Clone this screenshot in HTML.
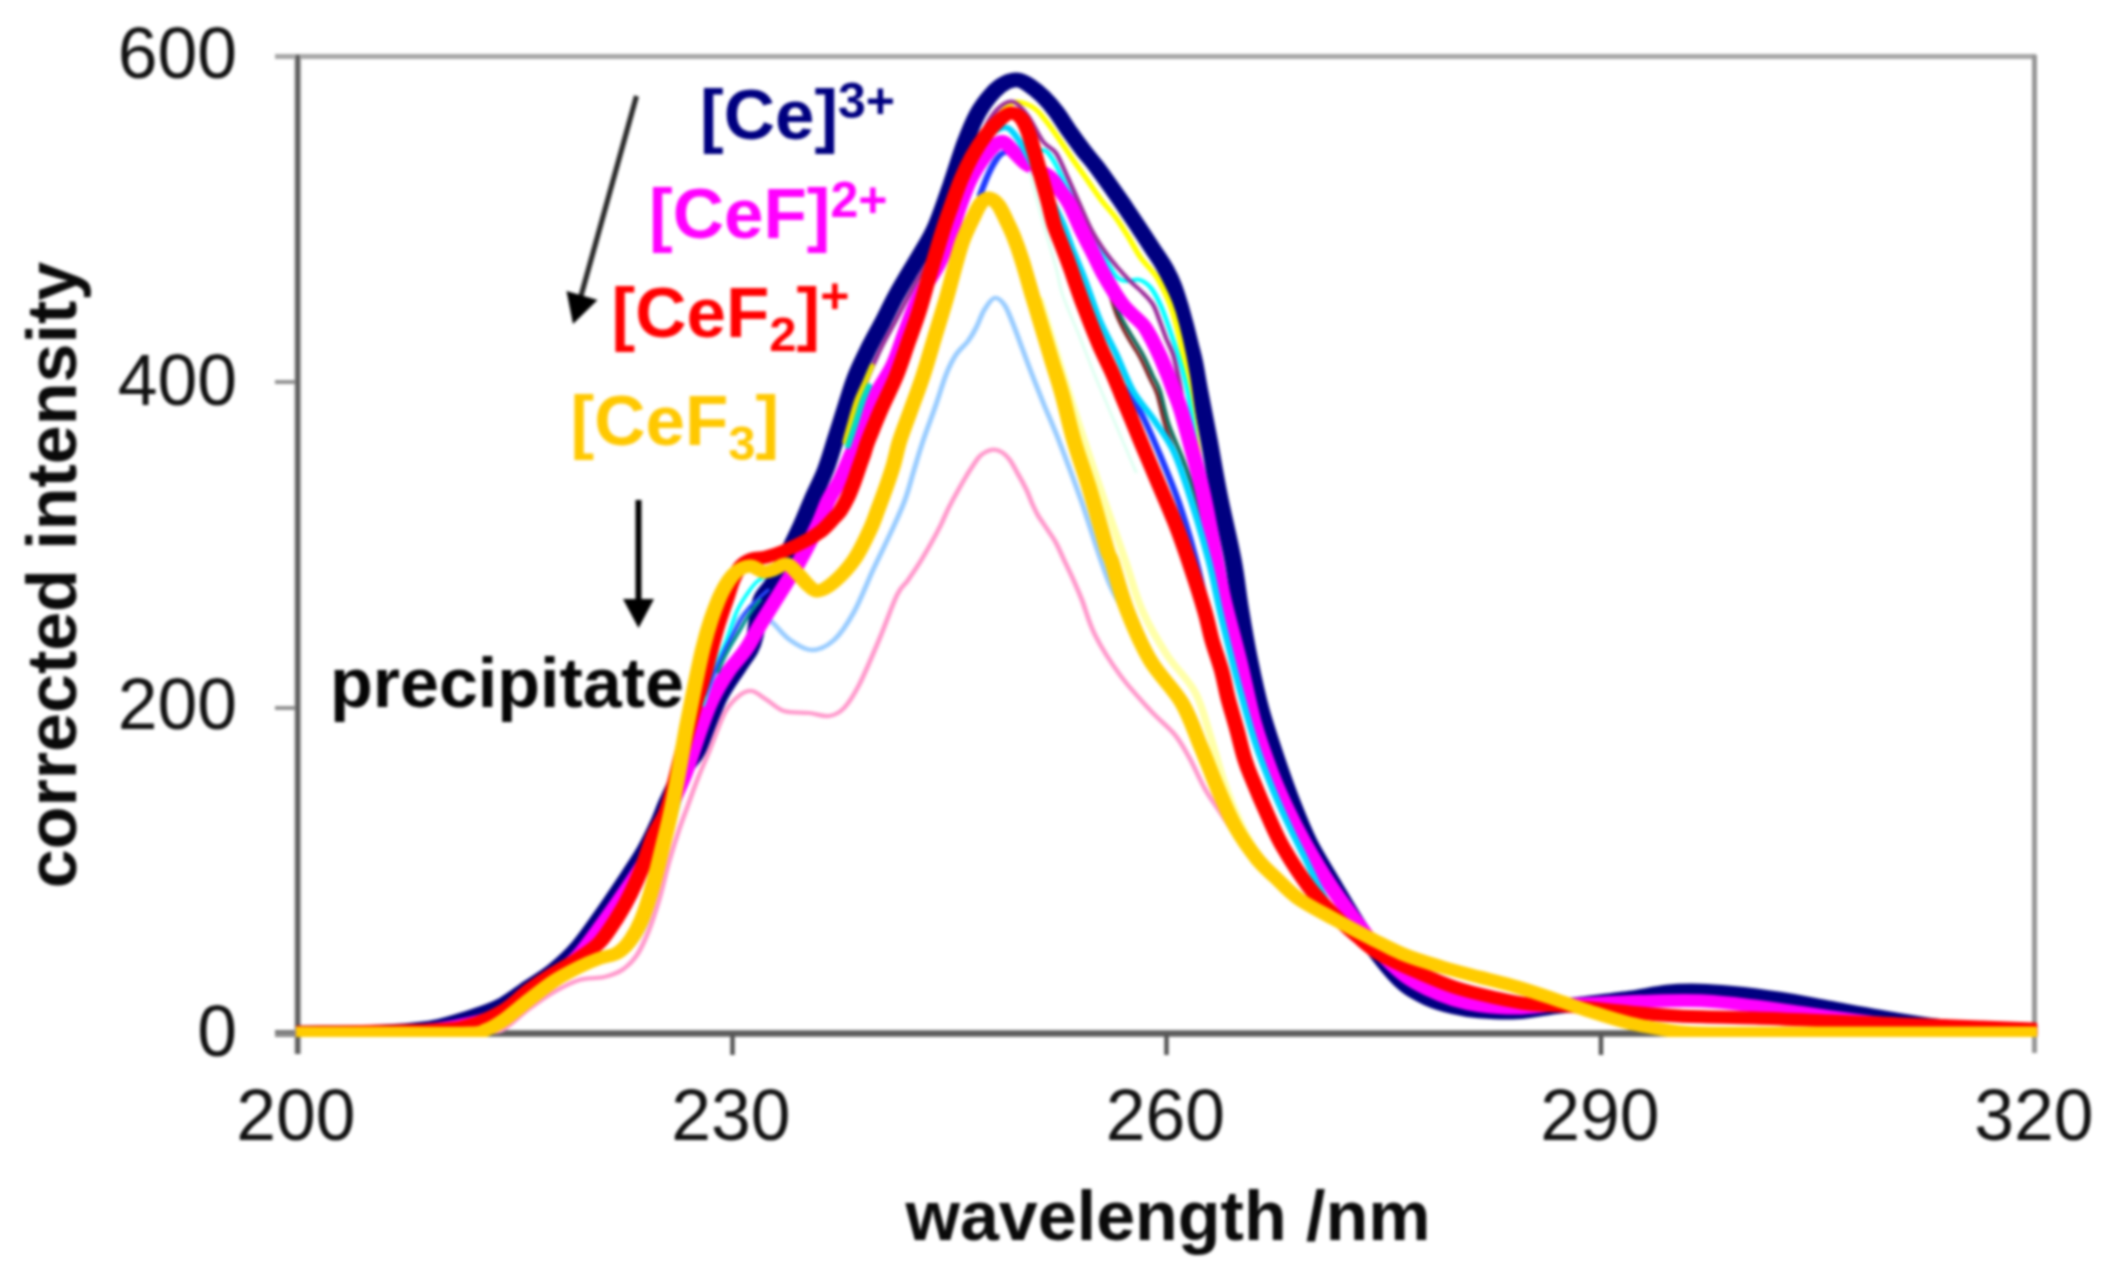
<!DOCTYPE html>
<html lang="en">
<head>
<meta charset="utf-8">
<title>Corrected intensity vs wavelength</title>
<style>
html,body{margin:0;padding:0;background:#fff;}
body{width:2105px;height:1275px;overflow:hidden;position:relative;font-family:"Liberation Sans",sans-serif;}
svg{position:absolute;left:0;top:0;display:block;}
text{font-family:"Liberation Sans",sans-serif;}
.tick{font-size:71.5px;fill:#111;}
.b{font-weight:bold;}
.curves path{fill:none;stroke-linejoin:round;stroke-linecap:round;}
</style>
</head>
<body>
<svg width="2105" height="1275" viewBox="0 0 2105 1275">
<defs>
<filter id="soft" x="-2%" y="-2%" width="104%" height="104%" color-interpolation-filters="sRGB"><feGaussianBlur stdDeviation="1.6"/></filter>
<clipPath id="plot"><rect x="250.8" y="40" width="1475.7" height="997"/></clipPath>
</defs>
<rect x="0" y="0" width="2105" height="1275" fill="#ffffff"/>
<g filter="url(#soft)">
<!-- frame -->
<g fill="none">
<line x1="275" y1="56.5" x2="2036" y2="56.5" stroke="#a6a6a6" stroke-width="5"/>
<line x1="2034.5" y1="55" x2="2034.5" y2="1053" stroke="#959595" stroke-width="5"/>
<line x1="275" y1="1033.5" x2="2036" y2="1033.5" stroke="#5c5c5c" stroke-width="6.5"/>
<line x1="297.7" y1="55" x2="297.7" y2="1054" stroke="#b4b4b4" stroke-width="7"/>
<line x1="297.7" y1="55" x2="297.7" y2="1054" stroke="#555555" stroke-width="4"/>
<!-- y ticks -->
<line x1="275" y1="382" x2="296" y2="382" stroke="#8c8c8c" stroke-width="3.8"/>
<line x1="275" y1="708" x2="296" y2="708" stroke="#8c8c8c" stroke-width="3.8"/>
<line x1="275" y1="1034" x2="296" y2="1034" stroke="#8c8c8c" stroke-width="3.8"/>
<!-- x ticks -->
<line x1="732.5" y1="1034" x2="732.5" y2="1055" stroke="#555" stroke-width="4.5"/>
<line x1="1166.5" y1="1034" x2="1166.5" y2="1055" stroke="#555" stroke-width="4.5"/>
<line x1="1601" y1="1034" x2="1601" y2="1055" stroke="#555" stroke-width="4.5"/>
</g>
<!-- spectra -->
<g class="curves" clip-path="url(#plot)" transform="scale(1.18 1)">
<path d="M406.8 1031.0C410.2 1028.2 420.2 1020.0 427.1 1014.0C434.0 1008.0 441.2 1001.0 448.3 995.0C455.4 989.0 462.4 982.8 469.5 978.0C476.6 973.2 484.2 969.0 490.7 966.0C497.2 963.0 503.1 961.5 508.5 960.0C513.8 958.5 518.6 959.0 522.9 957.0C527.1 955.0 529.9 953.3 533.9 948.0C537.9 942.7 542.7 935.5 546.6 925.0C550.6 914.5 554.1 900.0 557.6 885.0C561.2 870.0 564.0 852.5 567.8 835.0C571.6 817.5 576.7 796.7 580.5 780.0C584.3 763.3 587.1 749.2 590.7 735.0C594.2 720.8 598.2 708.3 601.7 695.0C605.2 681.7 608.3 666.7 611.9 655.0C615.4 643.3 619.2 632.5 622.9 625.0C626.6 617.5 631.1 612.8 633.9 610.0C636.7 607.2 636.4 606.0 639.8 608.0C643.2 610.0 649.3 616.7 654.2 622.0C659.2 627.3 663.8 635.3 669.5 640.0C675.1 644.7 681.9 650.0 688.1 650.0C694.4 650.0 700.8 646.3 706.8 640.0C712.7 633.7 718.2 623.7 723.7 612.0C729.2 600.3 734.5 583.7 739.8 570.0C745.2 556.3 751.4 541.7 755.9 530.0C760.5 518.3 763.8 510.0 766.9 500.0C770.1 490.0 772.0 479.8 774.6 470.0C777.1 460.2 779.1 451.9 782.2 441.0C785.3 430.1 790.0 415.7 793.2 404.6C796.5 393.6 798.9 383.0 801.7 374.7C804.5 366.4 807.1 360.2 810.2 354.7C813.2 349.1 817.3 345.8 820.2 341.4C823.0 336.9 824.8 333.3 827.1 328.0C829.5 322.7 831.6 314.8 834.2 309.8C836.8 304.8 839.9 298.8 842.7 298.0C845.5 297.2 848.6 300.6 851.2 304.8C853.8 309.0 855.6 315.5 858.2 323.0C860.8 330.5 863.9 340.9 866.7 349.7C869.5 358.5 872.1 366.9 875.1 376.0C878.1 385.1 881.0 393.8 884.7 404.6C888.5 415.4 892.2 425.1 897.5 441.0C902.7 456.9 910.7 482.0 916.1 500.0C921.5 518.0 925.6 534.8 929.7 549.0C933.8 563.2 937.1 575.2 940.7 585.0C944.2 594.8 947.3 600.2 950.8 608.0C954.4 615.8 957.9 623.3 961.9 632.0C965.8 640.7 968.2 647.8 974.6 660.0C980.9 672.2 995.8 697.5 1000.0 705.0" stroke="#99ccff" stroke-width="4.4"/>
<path d="M251.7 1033.0C263.4 1032.8 303.2 1032.8 322.0 1032.0C340.8 1031.2 353.8 1029.7 364.4 1028.0C375.0 1026.3 378.5 1024.3 385.6 1022.0C392.7 1019.7 399.9 1017.0 406.8 1014.0C413.7 1011.0 420.2 1008.5 427.1 1004.0C434.0 999.5 441.2 992.7 448.3 987.0C455.4 981.3 462.4 976.8 469.5 970.0C476.6 963.2 483.6 955.7 490.7 946.0C497.7 936.3 504.8 923.8 511.9 912.0C518.9 900.2 527.3 885.3 533.1 875.0C538.8 864.7 542.5 858.5 546.6 850.0C550.7 841.5 554.4 832.3 557.6 824.0C560.9 815.7 562.7 808.7 566.1 800.0C569.5 791.3 573.6 780.5 578.0 772.0C582.3 763.5 586.9 761.0 592.0 749.0C597.1 737.0 602.9 713.5 608.5 700.0C614.0 686.5 620.9 676.3 625.4 668.0C629.9 659.7 633.2 655.3 635.6 650.0C638.0 644.7 638.7 641.8 639.8 636.0C641.0 630.2 641.4 621.3 642.4 615.0C643.4 608.7 643.6 603.3 645.8 598.0C647.9 592.7 652.1 588.8 655.1 583.0C658.1 577.2 659.7 572.2 663.6 563.0C667.4 553.8 673.9 538.5 678.0 528.0C682.1 517.5 684.5 509.7 688.1 500.0C691.7 490.3 696.3 479.8 699.6 470.0C702.8 460.2 704.7 451.9 707.6 441.0C710.6 430.1 714.3 415.7 717.3 404.6C720.3 393.6 722.5 384.4 725.8 374.7C729.1 365.0 733.3 355.3 737.0 346.4C740.8 337.5 744.6 329.8 748.3 321.5C752.0 313.2 755.2 304.8 759.0 296.5C762.8 288.2 767.3 279.4 771.2 271.6C775.1 263.9 778.5 257.6 782.2 250.0C785.9 242.4 789.3 236.8 793.2 226.0C797.2 215.2 801.8 198.8 805.9 185.0C810.0 171.2 814.0 155.0 817.8 143.0C821.6 131.0 824.9 121.4 828.8 113.0C832.8 104.6 837.6 97.7 841.5 92.6C845.5 87.5 849.0 84.7 852.5 82.6C856.1 80.5 859.4 79.5 862.7 80.0C866.0 80.5 869.0 82.7 872.5 85.5C876.1 88.3 880.2 92.3 883.9 96.6C887.6 100.9 891.2 105.7 894.9 111.5C898.7 117.3 902.5 125.1 906.4 131.5C910.2 137.9 914.1 144.2 917.8 150.0C921.5 155.8 925.1 160.3 928.8 166.0C932.5 171.7 936.0 177.7 939.8 184.0C943.6 190.3 947.7 197.2 951.7 204.0C955.6 210.8 959.5 217.7 963.6 225.0C967.7 232.3 972.4 240.9 976.3 248.0C980.2 255.1 984.1 261.4 987.0 267.5C990.0 273.6 992.0 278.6 994.1 284.8C996.2 291.0 997.9 297.8 999.7 304.7C1001.4 311.6 1003.1 319.1 1004.7 326.0C1006.2 332.9 1007.6 339.8 1008.9 346.0C1010.2 352.2 1011.1 355.5 1012.4 363.0C1013.7 370.5 1014.6 378.2 1016.6 391.0C1018.6 403.8 1021.8 422.7 1024.6 440.0C1027.3 457.3 1029.7 475.0 1033.1 495.0C1036.4 515.0 1041.9 540.8 1044.9 560.0C1048.0 579.2 1048.9 593.3 1051.3 610.0C1053.6 626.7 1056.0 643.3 1058.9 660.0C1061.8 676.7 1064.8 693.5 1068.6 710.0C1072.5 726.5 1077.4 743.7 1081.8 759.0C1086.2 774.3 1090.3 788.2 1094.9 802.0C1099.5 815.8 1103.7 828.7 1109.3 842.0C1115.0 855.3 1122.2 868.7 1128.8 882.0C1135.5 895.3 1142.4 909.5 1149.2 922.0C1155.9 934.5 1162.6 946.5 1169.5 957.0C1176.4 967.5 1183.8 978.0 1190.7 985.0C1197.6 992.0 1204.1 995.3 1211.0 999.0C1217.9 1002.7 1225.1 1005.0 1232.2 1007.0C1239.3 1009.0 1244.5 1010.2 1253.4 1011.0C1262.3 1011.8 1275.0 1012.7 1285.6 1012.0C1296.2 1011.3 1308.1 1008.3 1316.9 1007.0C1325.8 1005.7 1328.2 1005.5 1339.0 1004.0C1349.7 1002.5 1369.1 1000.0 1381.4 998.0C1393.6 996.0 1402.8 993.2 1412.7 992.0C1422.6 990.8 1431.8 990.8 1440.7 991.0C1449.6 991.2 1454.9 991.7 1466.1 993.0C1477.3 994.3 1493.6 996.5 1507.6 999.0C1521.6 1001.5 1535.9 1005.0 1550.0 1008.0C1564.1 1011.0 1578.2 1014.2 1592.4 1017.0C1606.5 1019.8 1620.6 1022.8 1634.7 1025.0C1648.9 1027.2 1662.3 1028.8 1677.1 1030.0C1691.9 1031.2 1716.0 1031.7 1723.7 1032.0" stroke="#000080" stroke-width="14.6"/>
<path d="M930.5 264.0C932.1 268.7 937.1 283.3 939.8 292.0C942.5 300.7 944.1 308.7 946.6 316.0C949.2 323.3 951.8 329.1 955.1 336.0C958.3 342.9 962.9 350.4 966.1 357.6C969.4 364.8 972.2 372.9 974.6 379.0C977.0 385.1 978.2 385.8 980.5 394.0C982.8 402.2 984.7 416.2 988.1 428.0C991.5 439.8 998.7 458.8 1000.8 465.0" stroke="#802020" stroke-width="3.0"/>
<path d="M930.5 262.0C932.2 266.7 937.7 281.5 940.7 290.0C943.6 298.5 945.5 305.8 948.3 313.0C951.1 320.2 954.2 326.1 957.6 333.0C961.0 339.9 965.4 347.4 968.6 354.6C971.9 361.8 974.7 369.9 977.1 376.0C979.5 382.1 980.8 382.8 983.1 391.0C985.3 399.2 987.3 413.2 990.7 425.0C994.1 436.8 999.3 448.7 1003.4 462.0C1007.5 475.3 1011.6 490.3 1015.3 505.0C1018.9 519.7 1023.7 542.5 1025.4 550.0" stroke="#0a6a5a" stroke-width="3.2"/>
<path d="M830.5 195.0C831.6 191.7 835.0 180.8 837.3 175.0C839.5 169.2 841.9 163.7 844.1 160.0C846.2 156.3 847.7 154.3 850.0 153.0C852.3 151.7 854.9 151.3 857.6 152.0C860.3 152.7 863.4 155.3 866.1 157.0C868.8 158.7 871.0 158.8 873.7 162.0C876.4 165.2 878.9 165.3 882.2 176.0C885.5 186.7 889.4 210.4 893.6 226.0C897.9 241.6 903.1 255.0 907.6 269.5C912.1 284.0 916.7 300.2 920.8 313.0C924.8 325.8 928.3 336.2 932.0 346.0C935.8 355.8 939.4 364.3 943.2 372.0C947.1 379.7 951.0 384.8 955.1 392.0C959.2 399.2 963.1 404.5 967.8 415.0C972.5 425.5 977.8 440.3 983.1 455.0C988.3 469.7 994.2 486.2 999.2 503.0C1004.1 519.8 1008.6 537.8 1012.7 556.0C1016.8 574.2 1019.9 592.7 1023.7 612.0C1027.5 631.3 1031.6 652.3 1035.6 672.0C1039.5 691.7 1045.5 720.3 1047.5 730.0" stroke="#1f3bff" stroke-width="5.4"/>
<path d="M706.8 518.0C708.7 514.5 715.1 505.2 718.6 497.0C722.0 488.8 724.8 477.9 727.6 468.6C730.5 459.3 732.4 450.8 735.6 441.0C738.8 431.2 742.6 420.4 746.6 409.6C750.6 398.8 755.8 387.1 759.6 376.0C763.4 364.9 766.2 354.0 769.5 343.0C772.8 332.0 776.1 320.9 779.3 309.8C782.6 298.7 786.0 287.1 789.0 276.6C792.0 266.1 794.4 257.8 797.5 246.6C800.6 235.4 804.5 220.8 807.6 209.6C810.7 198.4 813.3 188.6 816.1 179.7C818.9 170.8 821.3 163.9 824.6 156.4C827.8 148.9 832.1 141.4 835.6 134.8C839.1 128.2 842.7 121.8 845.8 117.0C848.9 112.2 851.4 108.5 854.2 106.0C857.1 103.5 859.0 101.6 862.7 102.0C866.5 102.4 872.8 105.3 876.8 108.5C880.7 111.7 882.9 115.8 886.4 121.0C890.0 126.2 894.1 133.3 897.9 139.8C901.7 146.3 905.3 152.9 909.3 159.8C913.3 166.7 917.9 174.1 922.0 181.0C926.1 187.9 929.9 194.8 933.9 201.0C937.9 207.2 941.9 211.8 945.8 218.0C949.6 224.2 953.2 231.3 956.8 238.0C960.3 244.7 963.1 251.7 966.9 258.0C970.8 264.3 976.1 269.9 979.7 276.0C983.2 282.1 985.7 288.5 988.1 294.7C990.5 300.9 992.1 305.4 994.1 313.0C996.0 320.6 998.0 329.7 1000.0 340.0C1002.0 350.3 1004.2 363.3 1005.9 375.0C1007.6 386.7 1008.6 397.5 1010.2 410.0C1011.7 422.5 1013.4 433.0 1015.3 450.0C1017.1 467.0 1020.2 501.7 1021.2 512.0" stroke="#ffff00" stroke-width="4.8"/>
<path d="M872.9 160.0C874.7 158.3 880.6 150.0 883.9 150.0C887.1 150.0 889.1 154.2 892.4 160.0C895.6 165.8 898.9 174.7 903.4 185.0C907.9 195.3 914.3 210.3 919.5 222.0C924.7 233.7 930.3 245.9 934.7 255.0C939.2 264.1 942.9 272.2 946.2 276.5C949.5 280.8 951.4 280.4 954.7 281.0C957.9 281.6 962.4 278.6 965.8 279.8C969.3 281.0 972.4 283.6 975.4 288.0C978.4 292.4 981.3 299.1 983.9 306.0C986.5 312.9 988.9 321.6 991.3 329.7C993.7 337.8 996.1 346.3 998.3 354.6C1000.5 362.9 1002.5 371.1 1004.2 379.5C1005.9 387.9 1006.8 393.2 1008.5 405.0C1010.2 416.8 1012.3 432.2 1014.4 450.0C1016.5 467.8 1020.1 501.7 1021.2 512.0" stroke="#00ffff" stroke-width="4.0"/>
<path d="M716.9 436.0C718.6 430.8 723.9 415.2 727.1 405.0C730.4 394.8 733.1 384.8 736.4 375.0C739.8 365.2 743.8 354.8 747.5 346.0C751.1 337.2 754.8 330.2 758.5 322.0C762.1 313.8 765.7 305.3 769.5 297.0C773.3 288.7 777.5 279.8 781.4 272.0C785.2 264.2 788.7 257.7 792.4 250.0C796.0 242.3 799.6 236.3 803.4 226.0C807.2 215.7 811.4 200.3 815.3 188.0C819.1 175.7 822.6 163.0 826.3 152.0C829.9 141.0 833.6 129.7 837.3 122.0C841.0 114.3 844.6 109.3 848.3 106.0C852.0 102.7 855.5 100.3 859.3 102.0C863.1 103.7 867.1 109.4 871.2 116.0C875.3 122.6 879.9 135.3 883.9 141.5C887.9 147.7 891.4 146.9 894.9 153.0C898.4 159.1 901.7 169.3 905.1 178.0C908.5 186.7 911.9 196.3 915.3 205.0C918.6 213.7 921.5 222.2 925.0 230.0C928.5 237.8 932.7 245.2 936.4 251.5C940.2 257.8 943.9 263.1 947.5 268.0C951.0 272.9 954.1 276.8 957.6 281.0C961.2 285.2 965.4 289.1 968.6 293.0C971.9 296.9 974.8 300.0 977.1 304.7C979.5 309.4 981.0 315.4 982.8 321.0C984.6 326.6 986.3 332.4 988.1 338.0C990.0 343.6 992.2 347.6 994.1 354.6C995.9 361.6 997.3 369.1 999.2 380.0C1001.0 390.9 1002.8 405.0 1005.1 420.0C1007.3 435.0 1010.0 454.7 1012.7 470.0C1015.4 485.3 1019.8 505.0 1021.2 512.0" stroke="#9a2d9a" stroke-width="3.8"/>
<path d="M251.7 1033.0C263.4 1032.9 303.2 1033.0 322.0 1032.5C340.8 1032.0 350.3 1031.9 364.4 1030.0C378.5 1028.1 396.3 1024.2 406.8 1021.0C417.2 1017.8 420.2 1015.5 427.1 1011.0C434.0 1006.5 441.2 999.7 448.3 994.0C455.4 988.3 462.4 983.5 469.5 977.0C476.6 970.5 483.6 964.2 490.7 955.0C497.7 945.8 504.8 933.5 511.9 922.0C518.9 910.5 527.3 896.2 533.1 886.0C538.8 875.8 542.5 869.5 546.6 861.0C550.7 852.5 554.4 843.2 557.6 835.0C560.9 826.8 562.3 822.2 566.1 812.0C569.9 801.8 576.0 787.7 580.5 774.0C585.0 760.3 589.4 742.4 593.2 730.0C597.0 717.6 599.4 709.2 603.4 699.5C607.3 689.8 612.2 680.3 616.9 672.0C621.7 663.7 627.5 657.4 632.0 649.6C636.6 641.8 639.8 633.3 644.1 625.0C648.3 616.7 653.4 607.3 657.4 599.8C661.3 592.3 664.5 586.3 667.8 580.0C671.1 573.7 672.9 571.2 677.1 562.0C681.4 552.8 689.1 535.3 693.2 525.0C697.4 514.7 699.0 507.5 702.1 500.0C705.2 492.5 708.7 487.5 711.9 480.0C715.0 472.5 718.8 461.5 721.2 455.0C723.6 448.5 723.2 450.2 726.3 441.0C729.4 431.8 734.7 412.7 739.8 400.0C744.9 387.3 752.1 376.7 756.8 365.0C761.4 353.3 764.0 341.7 767.8 330.0C771.6 318.3 775.1 305.8 779.7 295.0C784.2 284.2 790.7 275.0 794.9 265.0C799.2 255.0 802.0 245.0 805.1 235.0C808.2 225.0 810.7 214.2 813.6 205.0C816.4 195.8 818.9 187.5 822.0 180.0C825.1 172.5 829.0 165.5 832.2 160.0C835.5 154.5 838.6 150.1 841.5 147.0C844.5 143.9 847.2 140.8 850.0 141.5C852.8 142.2 855.2 147.2 858.5 151.0C861.7 154.8 866.0 160.8 869.5 164.0C873.0 167.2 876.3 167.8 879.7 170.0C883.1 172.2 886.7 173.7 889.8 177.0C892.9 180.3 895.5 185.3 898.3 190.0C901.1 194.7 903.7 198.3 906.8 205.0C909.8 211.7 913.3 222.0 916.5 230.0C919.8 238.0 923.2 245.8 926.3 253.0C929.3 260.2 931.7 266.3 934.7 273.0C937.8 279.7 941.8 287.5 944.7 293.0C947.7 298.5 949.8 302.2 952.5 306.0C955.3 309.8 958.2 312.7 961.0 316.0C963.8 319.3 966.9 322.1 969.5 326.0C972.0 329.9 974.0 334.6 976.3 339.6C978.5 344.6 980.8 350.2 983.1 356.0C985.3 361.8 987.6 368.7 989.6 374.5C991.6 380.3 993.0 385.1 994.9 391.0C996.8 396.9 998.3 400.2 1000.8 410.0C1003.4 419.8 1007.5 438.3 1010.2 450.0C1012.9 461.7 1014.8 469.7 1016.9 480.0C1019.1 490.3 1020.6 498.7 1022.9 512.0C1025.1 525.3 1028.1 545.3 1030.5 560.0C1032.9 574.7 1034.0 583.3 1037.3 600.0C1040.6 616.7 1046.2 639.7 1050.4 660.0C1054.7 680.3 1058.3 703.3 1062.7 722.0C1067.2 740.7 1072.5 757.5 1077.1 772.0C1081.8 786.5 1086.0 797.3 1090.7 809.0C1095.3 820.7 1099.0 829.3 1105.1 842.0C1111.2 854.7 1119.9 872.0 1127.1 885.0C1134.3 898.0 1141.2 908.8 1148.3 920.0C1155.4 931.2 1162.4 942.7 1169.5 952.0C1176.6 961.3 1183.8 969.7 1190.7 976.0C1197.6 982.3 1204.1 986.0 1211.0 990.0C1217.9 994.0 1225.1 997.4 1232.2 1000.0C1239.3 1002.6 1244.5 1004.2 1253.4 1005.5C1262.3 1006.8 1275.0 1008.1 1285.6 1008.0C1296.2 1007.9 1308.1 1005.7 1316.9 1005.0C1325.8 1004.3 1324.7 1004.7 1339.0 1004.0C1353.2 1003.3 1384.9 1001.5 1402.5 1001.0C1420.2 1000.5 1430.9 1000.2 1444.9 1001.0C1458.9 1001.8 1472.5 1004.0 1486.4 1006.0C1500.4 1008.0 1514.7 1010.7 1528.8 1013.0C1542.9 1015.3 1557.1 1017.8 1571.2 1020.0C1585.3 1022.2 1599.4 1024.3 1613.6 1026.0C1627.7 1027.7 1637.6 1029.0 1655.9 1030.0C1674.3 1031.0 1712.4 1031.7 1723.7 1032.0" stroke="#ff00ff" stroke-width="13"/>
<path d="M814.4 179.7C816.0 175.8 820.2 163.3 823.7 156.4C827.3 149.5 832.1 142.4 835.6 138.0C839.1 133.6 841.8 131.7 844.9 130.0C848.0 128.3 851.3 126.5 854.2 128.0C857.2 129.5 859.6 133.7 862.7 139.0C865.8 144.3 869.4 152.3 872.9 160.0C876.4 167.7 880.4 177.2 883.9 185.0C887.4 192.8 891.1 200.2 894.1 207.0C897.0 213.8 899.4 219.4 901.7 226.0C904.0 232.6 905.2 237.5 908.1 246.5C911.1 255.5 915.5 267.6 919.5 280.0C923.5 292.4 927.8 308.6 932.2 321.0C936.7 333.4 941.5 342.9 946.2 354.6C950.8 366.3 954.9 380.1 960.2 391.0C965.5 401.9 972.2 409.8 978.0 420.0C983.8 430.2 989.7 438.7 994.9 452.0C1000.1 465.3 1004.4 481.7 1009.3 500.0C1014.3 518.3 1020.2 542.0 1024.6 562.0C1029.0 582.0 1031.2 598.7 1035.6 620.0C1040.0 641.3 1046.0 669.2 1050.8 690.0C1055.6 710.8 1059.7 728.3 1064.4 745.0C1069.1 761.7 1073.9 775.8 1078.8 790.0C1083.8 804.2 1089.5 818.7 1094.1 830.0C1098.6 841.3 1102.1 848.8 1105.9 858.0C1109.7 867.2 1112.9 875.5 1116.9 885.0C1121.0 894.5 1128.2 910.0 1130.5 915.0" stroke="#00d4ff" stroke-width="5.6"/>
<path d="M595.8 705.0C597.0 700.8 600.8 687.4 603.1 679.6C605.3 671.8 607.2 664.6 609.3 658.0C611.4 651.4 613.3 647.4 615.8 639.7C618.2 632.0 621.3 619.5 624.2 612.0C627.0 604.5 629.8 599.8 632.6 594.8C635.5 589.8 638.5 585.0 641.1 582.0C643.7 579.0 645.6 578.3 648.3 577.0C651.1 575.7 656.1 574.5 657.6 574.0" stroke="#00ffff" stroke-width="3.4"/>
<path d="M597.5 695.0C599.4 689.5 605.4 672.2 609.3 662.0C613.3 651.8 617.2 642.7 621.2 634.0C625.1 625.3 629.7 615.7 633.1 610.0C636.4 604.3 638.6 603.3 641.5 600.0C644.5 596.7 649.3 591.7 650.8 590.0" stroke="#2a4bff" stroke-width="3.0"/>
<path d="M608.5 672.0C609.3 669.7 611.9 662.2 613.6 658.0C615.3 653.8 616.4 651.4 618.6 646.7C620.9 642.0 624.3 635.6 627.1 630.0C629.9 624.4 632.8 618.0 635.6 613.0C638.4 608.0 642.7 602.2 644.1 600.0" stroke="#009090" stroke-width="3.2"/>
<path d="M716.1 442.0C716.9 438.3 719.5 427.0 721.2 420.0C722.9 413.0 724.2 406.7 726.3 400.0C728.4 393.3 731.8 385.7 733.9 380.0C736.0 374.3 738.1 368.3 739.0 366.0" stroke="#e8e000" stroke-width="4.6"/>
<path d="M718.6 446.0C719.6 442.5 722.5 432.5 724.6 425.0C726.7 417.5 729.1 407.5 731.1 401.0C733.1 394.5 735.6 388.5 736.4 386.0" stroke="#00dcc8" stroke-width="5.2"/>
<path d="M872.9 172.0C873.9 176.7 876.8 191.0 878.8 200.0C880.8 209.0 882.8 217.7 884.7 226.0C886.7 234.3 888.8 242.3 890.7 250.0C892.5 257.7 894.1 264.3 895.8 272.0C897.5 279.7 897.6 285.0 900.8 296.0C904.1 307.0 910.5 324.1 915.3 338.0C920.0 351.9 923.9 364.2 929.2 379.5C934.6 394.8 941.9 414.6 947.5 430.0C953.0 445.4 960.2 465.0 962.7 472.0" stroke="#dcfff0" stroke-width="2.4"/>
<path d="M881.4 300.0C884.2 310.8 892.8 344.2 898.3 365.0C903.8 385.8 908.2 402.5 914.4 425.0C920.6 447.5 929.1 477.5 935.6 500.0C942.1 522.5 948.0 541.7 953.4 560.0C958.8 578.3 961.9 594.2 967.8 610.0C973.7 625.8 981.5 641.3 989.0 655.0C996.5 668.7 1006.6 678.7 1012.7 692.0C1018.8 705.3 1021.3 720.0 1025.4 735.0C1029.5 750.0 1033.3 768.2 1037.3 782.0C1041.2 795.8 1044.8 806.7 1049.2 818.0C1053.5 829.3 1058.5 840.7 1063.6 850.0C1068.6 859.3 1077.0 870.0 1079.7 874.0" stroke="#ffffa8" stroke-width="6.5"/>
<path d="M415.3 1032.0C417.2 1031.5 421.6 1032.8 427.1 1029.0C432.6 1025.2 441.2 1015.2 448.3 1009.0C455.4 1002.8 462.4 996.8 469.5 992.0C476.6 987.2 483.6 982.5 490.7 980.0C497.7 977.5 505.8 978.7 511.9 977.0C517.9 975.3 522.5 973.7 527.1 970.0C531.8 966.3 536.0 961.7 539.8 955.0C543.6 948.3 546.9 939.2 550.0 930.0C553.1 920.8 555.6 911.3 558.5 900.0C561.3 888.7 564.1 873.7 566.9 862.0C569.8 850.3 572.7 839.5 575.4 830.0C578.1 820.5 580.4 813.7 583.1 805.0C585.7 796.3 588.4 787.3 591.5 778.0C594.6 768.7 597.9 760.0 601.7 749.0C605.5 738.0 610.2 721.0 614.4 712.0C618.6 703.0 623.3 698.5 627.1 695.0C630.9 691.5 633.5 690.2 637.3 691.0C641.1 691.8 645.5 696.7 650.0 700.0C654.5 703.3 658.5 708.8 664.4 711.0C670.3 713.2 679.2 712.2 685.6 713.0C691.9 713.8 697.6 716.8 702.5 716.0C707.5 715.2 711.0 713.2 715.3 708.0C719.5 702.8 723.0 696.3 728.0 685.0C732.9 673.7 739.5 655.0 744.9 640.0C750.3 625.0 756.1 604.9 760.2 595.0C764.2 585.1 765.9 586.1 769.1 580.8C772.2 575.5 775.8 569.3 779.2 563.0C782.5 556.7 786.2 549.1 789.2 542.8C792.3 536.5 794.8 530.9 797.3 525.0C799.8 519.1 801.7 513.1 804.2 507.2C806.8 501.3 809.8 494.8 812.4 489.4C814.9 484.0 816.6 480.5 819.4 475.1C822.3 469.8 826.7 461.2 829.5 457.3C832.3 453.4 834.3 452.7 836.4 451.4C838.6 450.1 840.4 449.4 842.5 449.6C844.7 449.8 847.4 450.9 849.6 452.6C851.8 454.3 853.4 456.1 855.6 459.7C857.8 463.3 860.4 469.1 862.7 474.0C865.1 478.9 867.7 484.5 869.7 489.4C871.8 494.3 873.1 499.2 874.7 503.6C876.4 508.0 877.6 511.1 879.7 515.5C881.9 519.9 885.3 525.2 887.8 529.8C890.3 534.3 892.6 537.7 894.9 542.8C897.3 547.9 899.4 554.3 901.9 560.6C904.5 566.9 907.5 574.2 910.0 580.8C912.5 587.4 914.0 591.0 916.9 600.0C919.9 609.0 922.6 622.5 928.0 635.0C933.3 647.5 941.4 662.5 949.2 675.0C956.9 687.5 966.8 700.0 974.6 710.0C982.3 720.0 990.1 726.8 995.8 735.0C1001.4 743.2 1004.2 750.0 1008.5 759.0C1012.7 768.0 1016.9 780.2 1021.2 789.0C1025.4 797.8 1029.0 803.2 1033.9 812.0C1038.8 820.8 1048.0 837.0 1050.8 842.0" stroke="#ff99cc" stroke-width="4.2"/>
<path d="M251.7 1032.0C270.5 1031.7 340.0 1031.2 364.4 1030.0C388.8 1028.8 387.9 1028.3 398.3 1025.0C408.8 1021.7 418.8 1015.8 427.1 1010.0C435.5 1004.2 441.2 996.2 448.3 990.0C455.4 983.8 462.4 978.3 469.5 973.0C476.6 967.7 484.2 963.2 490.7 958.0C497.2 952.8 503.1 948.7 508.5 942.0C513.8 935.3 518.6 925.8 522.9 918.0C527.1 910.2 530.4 903.3 533.9 895.0C537.4 886.7 540.7 878.0 544.1 868.0C547.5 858.0 550.8 844.3 554.2 835.0C557.6 825.7 561.6 820.3 564.4 812.0C567.2 803.7 568.8 795.5 571.2 785.0C573.6 774.5 576.1 761.2 578.8 749.0C581.5 736.8 584.2 724.8 587.3 712.0C590.4 699.2 594.1 686.0 597.5 672.0C600.8 658.0 604.5 640.3 607.6 628.0C610.7 615.7 613.8 606.0 616.1 598.0C618.4 590.0 619.2 585.3 621.2 580.0C623.2 574.7 625.3 569.5 628.0 566.0C630.6 562.5 633.8 560.5 637.3 559.0C640.8 557.5 644.6 558.3 649.2 557.0C653.7 555.7 658.3 554.0 664.4 551.0C670.5 548.0 680.5 542.2 685.6 539.0C690.7 535.8 692.4 534.2 694.9 532.0C697.5 529.8 698.9 528.0 700.8 525.7C702.8 523.4 704.9 520.4 706.8 518.0C708.6 515.6 709.9 514.9 711.9 511.4C713.8 507.9 716.6 501.8 718.6 497.0C720.5 492.2 721.9 487.6 723.4 482.9C724.9 478.2 726.2 473.4 727.6 468.6C729.0 463.8 730.5 458.9 731.9 454.3C733.2 449.7 733.1 448.4 735.6 441.0C738.1 433.6 742.6 420.4 746.6 409.6C750.6 398.8 755.8 387.1 759.6 376.0C763.4 364.9 766.2 354.0 769.5 343.0C772.8 332.0 776.4 320.9 779.3 309.8C782.3 298.7 784.7 287.1 787.3 276.6C789.9 266.1 792.9 254.4 794.9 246.6C796.9 238.8 797.5 236.2 799.2 230.0C800.8 223.8 802.5 218.0 805.1 209.6C807.6 201.2 811.3 188.6 814.4 179.7C817.5 170.8 820.2 163.9 823.7 156.4C827.3 148.9 831.7 140.9 835.6 134.8C839.5 128.7 843.7 123.5 847.2 119.9C850.7 116.3 853.8 113.3 856.8 113.0C859.8 112.7 862.9 114.9 865.3 118.0C867.7 121.1 869.3 125.7 871.2 131.5C873.1 137.3 874.9 145.6 876.8 153.0C878.6 160.4 880.3 168.0 882.2 176.0C884.1 184.0 886.2 192.7 888.1 201.0C890.0 209.3 891.5 218.2 893.6 226.0C895.8 233.8 898.5 240.8 900.8 248.0C903.2 255.2 905.5 262.5 907.6 269.5C909.7 276.5 911.4 282.8 913.6 290.0C915.7 297.2 917.7 303.7 920.8 313.0C923.8 322.3 928.5 336.3 932.0 346.0C935.6 355.7 938.8 362.7 941.9 371.0C945.1 379.3 946.7 384.2 950.8 396.0C955.0 407.8 962.0 428.0 966.9 442.0C971.9 456.0 975.6 466.3 980.5 480.0C985.4 493.7 991.3 509.2 996.2 524.0C1001.1 538.8 1005.6 554.3 1009.7 569.0C1013.9 583.7 1018.3 600.2 1021.2 612.0C1024.1 623.8 1024.7 630.0 1027.1 640.0C1029.5 650.0 1033.4 662.5 1035.6 672.0C1037.8 681.5 1038.3 687.3 1040.4 697.0C1042.5 706.7 1045.9 719.5 1048.3 730.0C1050.7 740.5 1052.8 751.5 1055.1 760.0C1057.3 768.5 1058.6 771.7 1061.9 781.0C1065.1 790.3 1070.3 804.8 1074.6 816.0C1078.9 827.2 1081.9 836.2 1087.7 848.0C1093.5 859.8 1102.2 875.8 1109.3 887.0C1116.5 898.2 1123.6 906.7 1130.5 915.0C1137.4 923.3 1144.2 930.3 1150.8 937.0C1157.5 943.7 1162.0 949.2 1170.3 955.0C1178.7 960.8 1190.5 966.7 1200.8 972.0C1211.2 977.3 1221.6 982.8 1232.2 987.0C1242.8 991.2 1253.8 994.2 1264.4 997.0C1275.0 999.8 1283.5 1002.3 1295.8 1004.0C1308.1 1005.7 1324.0 1005.7 1338.1 1007.0C1352.3 1008.3 1366.4 1010.5 1380.5 1012.0C1394.6 1013.5 1405.1 1015.0 1422.9 1016.0C1440.7 1017.0 1466.0 1017.2 1487.3 1018.0C1508.6 1018.8 1530.4 1020.0 1550.8 1021.0C1571.3 1022.0 1589.0 1023.0 1610.2 1024.0C1631.4 1025.0 1659.0 1026.2 1678.0 1027.0C1696.9 1027.8 1716.1 1028.7 1723.7 1029.0" stroke="#ff0000" stroke-width="13"/>
<path d="M251.7 1033.0C266.2 1033.0 314.5 1033.0 339.0 1033.0C363.4 1033.0 386.0 1033.6 398.3 1033.0C410.6 1032.4 407.9 1031.7 412.7 1029.4C417.6 1027.2 421.5 1024.5 427.5 1019.5C433.4 1014.5 441.6 1006.0 448.6 999.5C455.7 993.0 462.7 986.2 469.7 980.8C476.8 975.4 484.6 970.7 490.9 967.0C497.3 963.3 502.5 960.7 507.8 958.4C513.1 956.1 518.4 956.1 522.6 953.4C526.8 950.7 529.5 947.6 533.1 942.0C536.6 936.4 540.3 929.2 543.7 919.7C547.1 910.2 550.4 897.5 553.4 885.0C556.4 872.5 559.3 857.2 561.9 845.0C564.4 832.8 566.4 824.5 568.6 812.0C570.9 799.5 573.2 784.5 575.4 770.0C577.7 755.5 579.9 739.2 582.2 725.0C584.5 710.8 586.7 697.8 589.0 685.0C591.2 672.2 593.5 658.8 595.8 648.0C598.0 637.2 599.9 629.3 602.5 620.0C605.2 610.7 608.5 599.8 611.9 592.0C615.3 584.2 618.9 577.3 622.9 573.0C626.8 568.7 631.5 566.2 635.6 566.0C639.7 565.8 643.9 571.5 647.5 572.0C651.0 572.5 653.5 570.3 656.8 569.0C660.0 567.7 663.6 563.0 666.9 564.0C670.3 565.0 674.0 571.3 677.1 575.0C680.2 578.7 682.9 583.3 685.6 586.0C688.3 588.7 689.7 591.7 693.2 591.0C696.8 590.3 701.7 587.2 706.8 582.0C711.9 576.8 718.8 568.3 723.7 560.0C728.7 551.7 733.2 540.0 736.4 532.0C739.7 524.0 740.0 522.3 743.2 512.0C746.5 501.7 752.7 481.8 755.9 470.0C759.1 458.2 759.7 451.1 762.4 441.0C765.1 430.9 768.7 420.4 772.0 409.6C775.3 398.8 778.9 387.9 782.2 376.0C785.5 364.1 788.7 350.7 791.9 338.0C795.2 325.3 798.7 312.0 801.7 299.8C804.7 287.6 807.3 275.0 809.7 265.0C812.1 255.0 813.6 247.8 816.1 240.0C818.6 232.2 822.0 224.2 824.6 218.0C827.1 211.8 829.1 206.3 831.4 203.0C833.6 199.7 835.7 197.7 838.1 198.0C840.5 198.3 843.4 201.0 845.8 204.6C848.2 208.2 850.4 214.4 852.5 219.6C854.7 224.8 856.6 229.3 858.9 236.0C861.2 242.7 863.4 249.9 866.1 260.0C868.8 270.1 872.2 284.9 875.1 296.5C878.0 308.1 880.7 318.7 883.6 329.8C886.4 340.9 889.2 352.0 892.0 363.0C894.9 374.0 897.5 383.0 900.5 396.0C903.5 409.0 906.4 425.8 910.2 441.0C913.9 456.2 918.2 469.0 922.9 487.0C927.5 505.0 934.9 536.5 938.1 549.0C941.4 561.5 939.5 551.8 942.4 562.0C945.2 572.2 949.7 593.7 955.1 610.0C960.5 626.3 966.8 644.5 974.6 660.0C982.3 675.5 994.5 688.5 1001.7 703.0C1008.9 717.5 1012.7 732.7 1017.8 747.0C1022.9 761.3 1027.3 775.5 1032.2 789.0C1037.1 802.5 1041.8 816.2 1047.5 828.0C1053.1 839.8 1060.5 851.7 1066.1 860.0C1071.8 868.3 1075.6 871.5 1081.4 878.0C1087.1 884.5 1092.4 892.0 1100.8 899.0C1109.3 906.0 1122.2 913.5 1132.2 920.0C1142.2 926.5 1151.3 932.2 1161.0 938.0C1170.8 943.8 1180.5 950.2 1190.7 955.0C1200.8 959.8 1211.6 963.3 1222.0 967.0C1232.5 970.7 1242.8 973.7 1253.4 977.0C1264.0 980.3 1275.0 983.3 1285.6 987.0C1296.2 990.7 1306.4 994.8 1316.9 999.0C1327.5 1003.2 1338.6 1008.0 1349.2 1012.0C1359.7 1016.0 1370.1 1020.0 1380.5 1023.0C1391.0 1026.0 1401.8 1028.3 1411.9 1030.0C1421.9 1031.7 1421.8 1032.5 1440.7 1033.0C1459.6 1033.5 1478.2 1033.0 1525.4 1033.0C1572.6 1033.0 1690.7 1033.0 1723.7 1033.0" stroke="#ffcc00" stroke-width="13"/>
</g>
<!-- arrows -->
<g>
<line x1="636.5" y1="96" x2="581" y2="296" stroke="#2a2a2a" stroke-width="5.2" stroke-linecap="butt"/>
<polygon points="573,324 566.5,291 597.5,300" fill="#000"/>
<line x1="638.5" y1="500" x2="638.5" y2="602" stroke="#000" stroke-width="6"/>
<polygon points="638.5,628 623,599 654,599" fill="#000"/>
</g>
<!-- tick labels -->
<g class="tick">
<text x="237" y="78" text-anchor="end">600</text>
<text x="237" y="405" text-anchor="end">400</text>
<text x="237" y="728.500" text-anchor="end">200</text>
<text x="237" y="1055.500" text-anchor="end">0</text>
<text x="296" y="1139.500" text-anchor="middle">200</text>
<text x="731" y="1139.500" text-anchor="middle">230</text>
<text x="1165.500" y="1139.500" text-anchor="middle">260</text>
<text x="1600" y="1139.500" text-anchor="middle">290</text>
<text x="2034" y="1139.500" text-anchor="middle">320</text>
</g>
<!-- axis titles -->
<text class="b" x="1168" y="1240" font-size="70" text-anchor="middle" fill="#0a0a0a">wavelength /nm</text>
<text class="b" transform="translate(76 575) rotate(-90)" font-size="70" text-anchor="middle" fill="#0a0a0a">corrected intensity</text>
<!-- annotations -->
<text class="b" x="700" y="139" font-size="71" fill="#000080">[Ce]<tspan font-size="50" dy="-21">3+</tspan></text>
<text class="b" x="649" y="238" font-size="71" fill="#ff00ff">[CeF]<tspan font-size="50" dy="-21">2+</tspan></text>
<text class="b" x="611.500" y="337" font-size="71" fill="#ff0000">[CeF<tspan font-size="49" dy="14">2</tspan><tspan dy="-14">]</tspan><tspan font-size="50" dy="-24">+</tspan></text>
<text class="b" x="570.500" y="445" font-size="71" fill="#ffc800">[CeF<tspan font-size="49" dy="15">3</tspan><tspan dy="-15">]</tspan></text>
<text class="b" x="330" y="707" font-size="70" fill="#050505">precipitate</text>
</g>
</svg>
</body>
</html>
